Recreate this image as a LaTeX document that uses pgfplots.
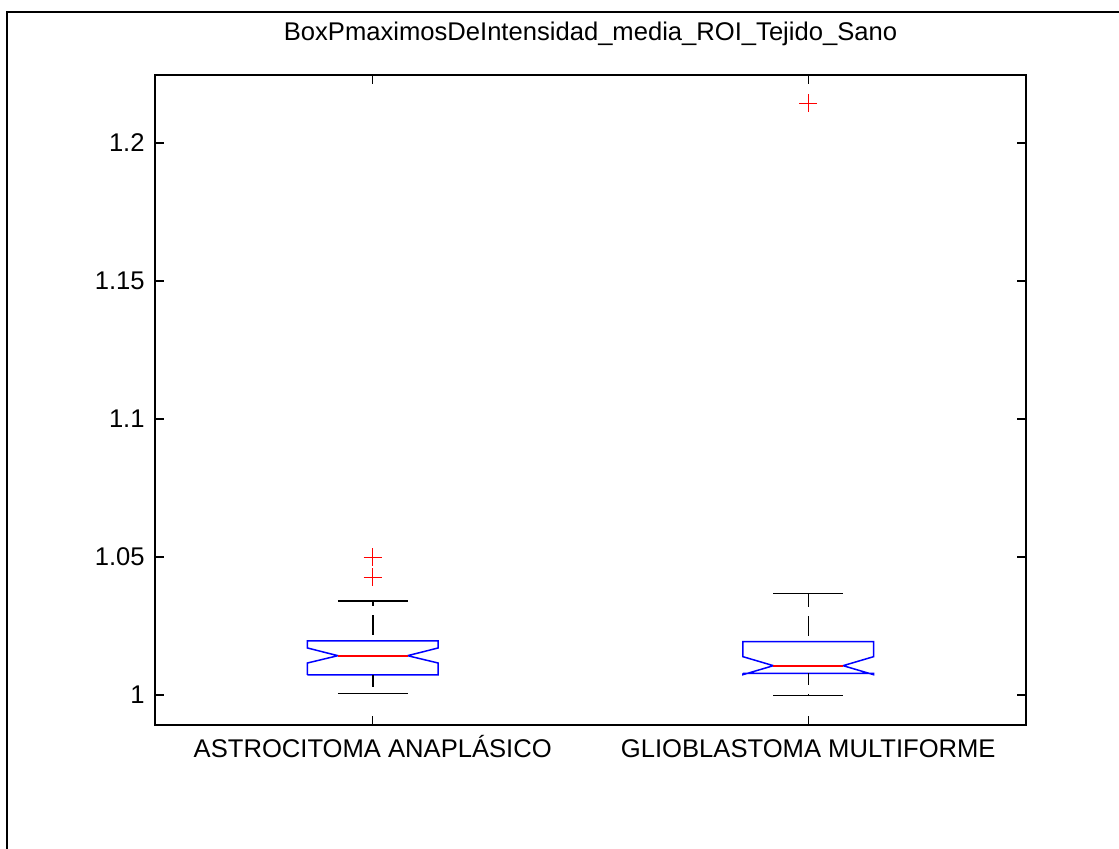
\documentclass[border=0pt]{standalone}
\usepackage{fontspec}
\setmainfont{Liberation Sans}
\usepackage{pgfplots}
\pgfplotsset{compat=1.18}
\definecolor{mblue}{RGB}{0,0,255}
\definecolor{mred}{RGB}{255,0,0}
\begin{document}
\begin{tikzpicture}
\path[fill=white, use as bounding box] (0,0) rectangle (559.5pt,-424.5pt);
\draw[line width=0.7pt] (3.5pt,-424.5pt) -- (3.5pt,-6pt) -- (559.5pt,-6pt);
\begin{axis}[
  at={(77.5pt,-362.5pt)}, anchor=south west,
  width=435.5pt, height=325pt, scale only axis,
  xmin=0.5, xmax=2.5, ymin=0.98913, ymax=1.2246,
  xtick={1,2}, xticklabels={ASTROCITOMA ANAPLÁSICO, GLIOBLASTOMA MULTIFORME},
  ytick={1,1.05,1.1,1.15,1.2}, yticklabels={1,1.05,1.1,1.15,1.2},
  tick align=inside, major tick length=4.5pt,
  tick style={black, line width=0.65pt},
  axis line style={line width=0.7pt},
  ticklabel style={font=\fontsize{12.8pt}{15pt}\selectfont},
  xticklabel style={text height=11.5pt, text depth=3pt, inner sep=4.35pt},
  yticklabel style={inner sep=5pt},
  title={BoxPmaximosDeIntensidad\_media\_ROI\_Tejido\_Sano},
  title style={font=\fontsize{12.8pt}{15pt}\selectfont, at={(0.5,1)}, anchor=base, yshift=11pt},
]
% box 1
\addplot[mblue, line width=0.75pt] coordinates {(0.85,1.00725) (0.85,1.01159) (0.92,1.01424) (0.85,1.01703) (0.85,1.01957) (1.15,1.01957) (1.15,1.01703) (1.08,1.01424) (1.15,1.01159) (1.15,1.00725) (0.85,1.00725)};
\addplot[mred, line width=0.9pt] coordinates {(0.92,1.01424) (1.08,1.01424)};
\addplot[black, line width=0.75pt, dash pattern=on 10pt off 4.5pt, dash phase=11.5pt] coordinates {(1,1.01957) (1,1.03406)};
\addplot[black, line width=0.75pt, dash pattern=on 10pt off 4.5pt, dash phase=4pt] coordinates {(1,1.00725) (1,1.00062)};
\addplot[black, line width=0.75pt] coordinates {(0.92,1.03406) (1.08,1.03406)};
\addplot[black, line width=0.75pt] coordinates {(0.92,1.00062) (1.08,1.00062)};
% box 2
\addplot[mblue, line width=0.75pt] coordinates {(1.85,1.00786) (1.85,1.00736) (1.92,1.01062) (1.85,1.01388) (1.85,1.01931) (2.15,1.01931) (2.15,1.01388) (2.08,1.01062) (2.15,1.00736) (2.15,1.00786) (1.85,1.00786)};
\addplot[mred, line width=0.9pt] coordinates {(1.92,1.01062) (2.08,1.01062)};
\addplot[black, line width=0.75pt, dash pattern=on 10pt off 4.5pt, dash phase=11.5pt] coordinates {(2,1.01931) (2,1.03685)};
\addplot[black, line width=0.75pt, dash pattern=on 10pt off 4.5pt, dash phase=4pt] coordinates {(2,1.00786) (2,0.99975)};
\addplot[black, line width=0.75pt] coordinates {(1.92,1.03685) (2.08,1.03685)};
\addplot[black, line width=0.75pt] coordinates {(1.92,0.99975) (2.08,0.99975)};
% outliers
\addplot[only marks, mark=+, mred, mark size=4.6pt, mark options={line width=0.65pt}] coordinates {(1,1.04989) (1,1.04264) (2,1.21438)};
\end{axis}
\end{tikzpicture}
\end{document}
